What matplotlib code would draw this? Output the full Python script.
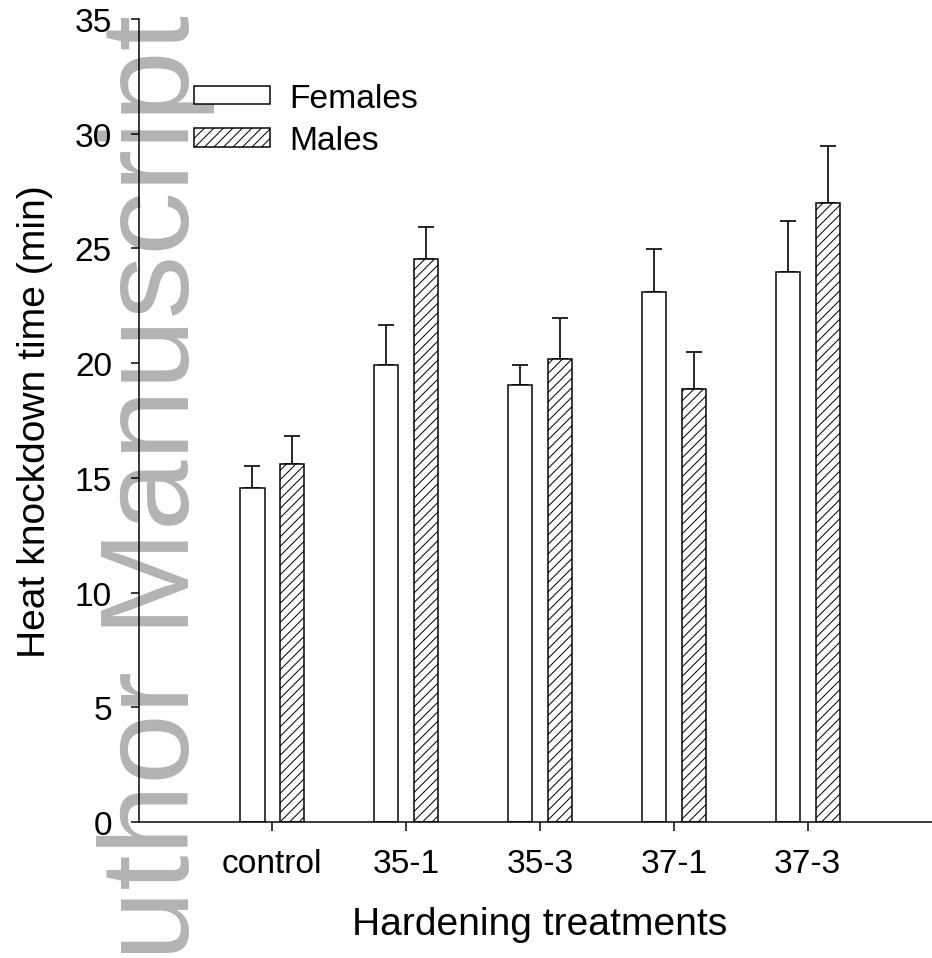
import matplotlib
matplotlib.use("Agg")
import matplotlib.pyplot as plt
from matplotlib.patches import Patch
import numpy as np

# ---- data ----
categories = ["control", "35-1", "35-3", "37-1", "37-3"]
females = [14.56, 19.93, 19.06, 23.12, 23.98]
females_err = [0.97, 1.74, 0.86, 1.86, 2.23]
males = [15.60, 24.55, 20.17, 18.89, 27.00]
males_err = [1.23, 1.39, 1.80, 1.58, 2.47]
series_names = ["Females", "Males"]
y_ticks = [0, 5, 10, 15, 20, 25, 30, 35]

# ---- figure set-up (work in pixels) ----
W, H = 932, 959
DPI = 114
P = 72.0 / DPI  # px -> pt
plt.rcParams['font.family'] = ['Liberation Sans', 'DejaVu Sans']
plt.rcParams['hatch.linewidth'] = 1.0 * P
plt.rcParams['hatch.color'] = 'black'

fig = plt.figure(figsize=(W / DPI, H / DPI), dpi=DPI)
fig.patch.set_facecolor('white')

# watermark
fig.text(189 / W, (H - 15) / H, "Author Manuscript", rotation=90,
         rotation_mode='anchor', ha='right', va='baseline',
         fontsize=127 * P, color='#b3b3b3', zorder=-10)

ax_left, ax_right = 138.5, 941.6
ax_top, ax_bot = 20, 823
ax = fig.add_axes([ax_left / W, (H - ax_bot) / H,
                   (ax_right - ax_left) / W, (ax_bot - ax_top) / H])
ax.patch.set_alpha(0)

x = np.arange(1, len(categories) + 1)
off = 0.149
bw = 0.182
lw = 1.5 * P
HATCH = '////'
ax.bar(x - off, females, bw, color='white', edgecolor='black', linewidth=lw, zorder=2)
ax.bar(x + off, males, bw, color='white', edgecolor='black', linewidth=lw,
       hatch=HATCH, zorder=2)
zeros = [0] * len(categories)
ax.errorbar(x - off, females, yerr=[zeros, females_err], fmt='none',
            ecolor='black', elinewidth=lw * 1.1, capsize=8.3 * P, capthick=lw * 1.1, zorder=1)
ax.errorbar(x + off, males, yerr=[zeros, males_err], fmt='none',
            ecolor='black', elinewidth=lw * 1.1, capsize=8.3 * P, capthick=lw * 1.1, zorder=1)

ax.set_xlim(0, 6)
ax.set_ylim(0, 35)
ax.set_xticks(x)
ax.set_xticklabels(categories)
ax.set_yticks(y_ticks)
for s in ['top', 'right']:
    ax.spines[s].set_visible(False)
for s in ['left', 'bottom']:
    ax.spines[s].set_linewidth(1.5 * P)
TFS = 33.5
ax.tick_params(axis='both', direction='out', length=8.5 * P, width=1.5 * P,
               labelsize=TFS * P, colors='black')
ax.tick_params(axis='y', pad=18 * P)
ax.tick_params(axis='x', pad=18 * P)

LFS = 39
ax.set_ylabel("Heat knockdown time (min)", fontsize=LFS * P)
ax.set_xlabel("Hardening treatments", fontsize=LFS * P)
axw = ax_right - ax_left
axh = ax_bot - ax_top
ax.yaxis.set_label_coords((53 - ax_left) / axw, 0.5)
ax.xaxis.set_label_coords(0.5, (ax_bot - 907) / axh)

handles = [Patch(facecolor='white', edgecolor='black', linewidth=lw, label=series_names[0]),
           Patch(facecolor='white', edgecolor='black', linewidth=lw, hatch=HATCH,
                 label=series_names[1])]
fs = 33.6
leg = fig.legend(handles=handles, loc='upper left',
                 bbox_to_anchor=(194 / W, (H - 84) / H),
                 frameon=False, fontsize=fs * P, handlelength=76 / fs,
                 handleheight=16 / fs, handletextpad=19 / fs, labelspacing=0.34,
                 borderpad=0, borderaxespad=0)

fig.savefig("out.png", dpi=DPI, facecolor='white')
